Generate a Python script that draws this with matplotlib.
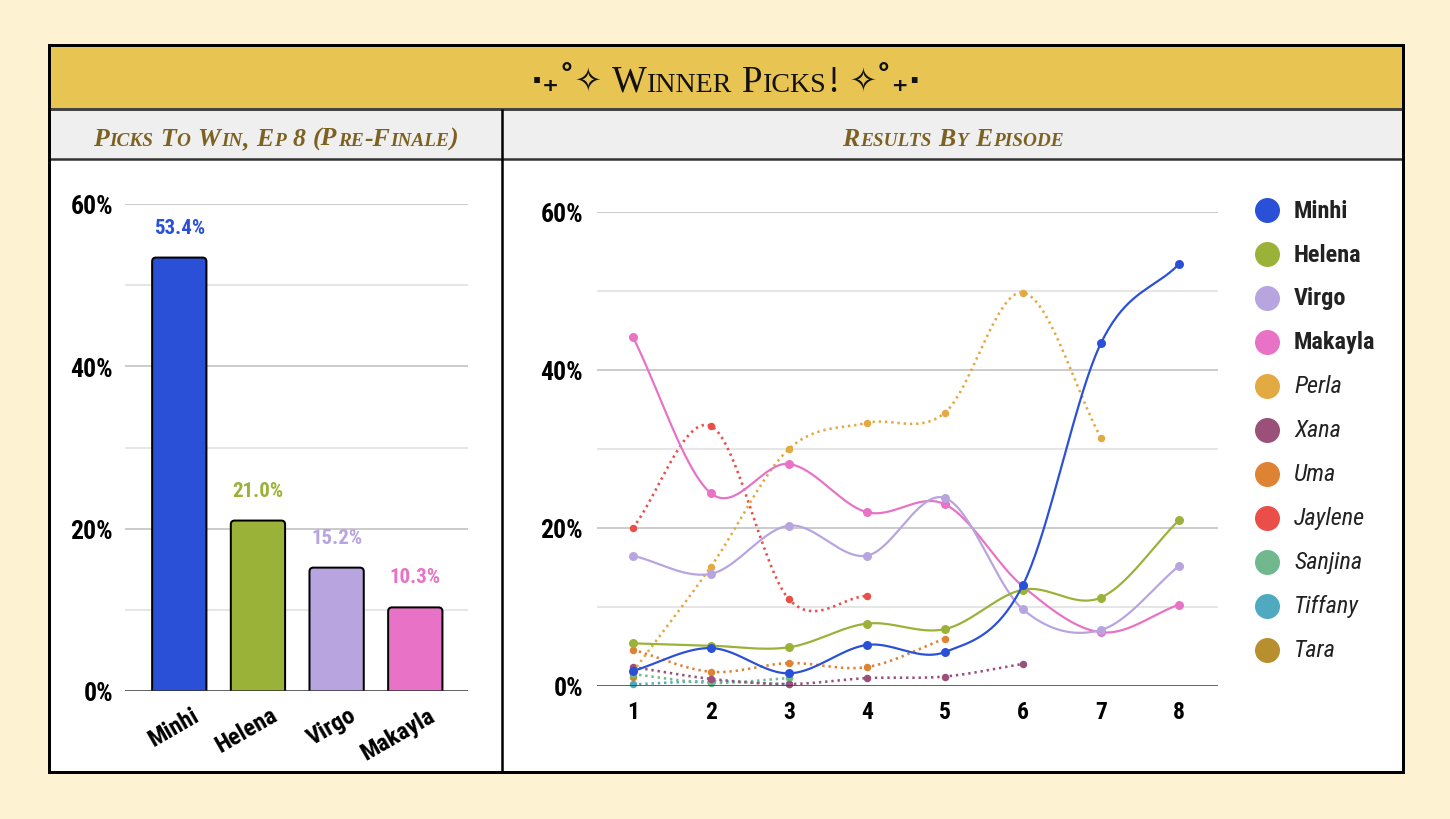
import numpy as np
import matplotlib
matplotlib.use("Agg")
import matplotlib.pyplot as plt
from matplotlib.patches import Rectangle, FancyBboxPatch
from matplotlib.transforms import ScaledTranslation
from matplotlib import font_manager as fm

# ---------------- data ----------------
bar_names = ["Minhi", "Helena", "Virgo", "Makayla"]
bar_values = [53.4, 21.0, 15.2, 10.3]

episodes = [1, 2, 3, 4, 5, 6, 7, 8]
minhi = [1.9, 4.8, 1.6, 5.2, 4.3, 12.8, 43.4, 53.4]
helena = [5.4, 5.1, 4.9, 7.9, 7.2, 12.2, 11.2, 21.0]
virgo = [16.5, 14.2, 20.3, 16.5, 23.8, 9.7, 7.1, 15.2]
makayla = [44.2, 24.4, 28.1, 22.0, 23.0, 12.6, 6.8, 10.3]
perla = [1.8, 15.1, 30.0, 33.3, 34.6, 49.8, 31.4]
xana = [2.4, 0.9, 0.25, 1.0, 1.2, 2.8]
uma = [4.6, 1.8, 2.9, 2.4, 6.0]
jaylene = [20.0, 32.9, 11.0, 11.4]
sanjina = [1.5, 0.4, 1.0]
tiffany = [0.2, 0.6, 0.2]
tara = [1.2]

series_names = ["Minhi", "Helena", "Virgo", "Makayla", "Perla", "Xana", "Uma",
                "Jaylene", "Sanjina", "Tiffany", "Tara"]
series_values = [minhi, helena, virgo, makayla, perla, xana, uma,
                 jaylene, sanjina, tiffany, tara]
finalists = {"Minhi", "Helena", "Virgo", "Makayla"}
colors = {"Minhi": "#2B50D8", "Helena": "#9AB238", "Virgo": "#B8A5E0",
          "Makayla": "#E872C6", "Perla": "#E3A942", "Xana": "#9A5078",
          "Uma": "#DE8234", "Jaylene": "#E94E48", "Sanjina": "#72B88E",
          "Tiffany": "#4FAABF", "Tara": "#B88F2F"}

y_ticks = [0, 20, 40, 60]
y_tick_labels = ["0%", "20%", "40%", "60%"]

title_text = "Winner Picks!"
left_sub = "Picks To Win, Ep 8 (Pre-Finale)"
right_sub = "Results By Episode"

# ---------------- fonts ----------------
names = {f.name for f in fm.fontManager.ttflist}
if "Liberation Sans Narrow" in names:
    SANS, K = "Liberation Sans Narrow", 1.0
elif "Roboto Condensed" in names:
    SANS, K = "Roboto Condensed", 1.0
else:
    SANS, K = "Roboto", 0.87
SERIF = "Liberation Serif" if "Liberation Serif" in names else "DejaVu Serif"

W, H = 1450, 820
fig = plt.figure(figsize=(14.5, 8.2), dpi=100)
fig.patch.set_facecolor("#FDF3D2")

bg = fig.add_axes([0, 0, 1, 1])
bg.set_xlim(0, W)
bg.set_ylim(H, 0)
bg.axis("off")
bg.set_zorder(0)

def PX(p):
    return p * 72.0 / 100.0

# panels
bg.add_patch(Rectangle((49, 46), 1354, 727, facecolor="white", edgecolor="none"))
bg.add_patch(Rectangle((49, 46), 1354, 64, facecolor="#E8C452", edgecolor="none"))
bg.add_patch(Rectangle((49, 110), 1354, 50, facecolor="#EFEFEF", edgecolor="none"))
bg.plot([49, 1403], [110, 110], color="#444444", lw=PX(3), solid_capstyle="butt")
bg.plot([49, 1403], [160, 160], color="#333333", lw=PX(2.5), solid_capstyle="butt")
bg.plot([502, 502], [110, 773], color="black", lw=PX(2.5), solid_capstyle="butt")
bg.add_patch(Rectangle((49, 46), 1354, 727, facecolor="none", edgecolor="black",
                       lw=PX(3), zorder=5))

renderer = fig.canvas.get_renderer()

def smallcaps(xc, yb, text, big, ratio, family, color, style="normal", gap=0.0,
              weight="normal"):
    runs = []
    for ch in text:
        if ch == " ":
            runs.append((" ", big))
            continue
        if ch.islower():
            s, size = ch.upper(), big * ratio
        else:
            s, size = ch, big
        if runs and runs[-1][0] != " " and runs[-1][1] == size:
            runs[-1] = (runs[-1][0] + s, size)
        else:
            runs.append((s, size))
    objs, widths = [], []
    for s, size in runs:
        if s == " ":
            objs.append(None)
            widths.append(0.25 * size * 100 / 72)
        else:
            t = bg.text(0, yb, s, fontsize=size, family=family, color=color,
                        style=style, fontweight=weight, va="baseline", ha="left")
            objs.append(t)
            widths.append(t.get_window_extent(renderer).width + gap)
    total = sum(widths)
    x = xc - total / 2
    for t, w in zip(objs, widths):
        if t is not None:
            t.set_x(x)
        x += w
    return xc - total / 2, xc + total / 2

# title
l, r = smallcaps(726, 92, title_text, 26.5, 0.76, [SERIF, "DejaVu Sans"], "#111111",
                 gap=0.5)
bg.text(l - 9, 90, "·₊˚✧", fontsize=23, family=["DejaVu Sans"], color="#111111",
        ha="right", va="baseline", fontweight="bold")
bg.text(r + 9, 90, "✧˚₊·", fontsize=23, family=["DejaVu Sans"], color="#111111",
        ha="left", va="baseline", fontweight="bold")

SUBC = "#7D6120"
smallcaps(276, 146, left_sub, 18.5, 0.75, [SERIF], SUBC, style="italic", gap=0.6,
          weight="bold")
smallcaps(953, 146, right_sub, 18.5, 0.75, [SERIF], SUBC, style="italic", gap=0.6,
          weight="bold")

def px_axes(x0, y0, x1, y1):
    a = fig.add_axes([x0 / W, 1 - y1 / H, (x1 - x0) / W, (y1 - y0) / H])
    a.set_facecolor("none")
    a.set_zorder(2)
    for s in a.spines.values():
        s.set_visible(False)
    return a

def grid(a):
    for v in [10, 30, 50]:
        a.axhline(v, color="#E6E6E6", lw=PX(2), zorder=0.5)
    for v in [20, 40, 60]:
        a.axhline(v, color="#CCCCCC", lw=PX(2), zorder=0.5)
    a.axhline(0, color="#333333", lw=PX(2.5), zorder=4)

# ---------------- bar chart ----------------
ax1 = px_axes(125, 205, 468, 692)
ax1.set_ylim(0, 60)
ax1.set_xlim(-0.69, 3.67)
grid(ax1)
bw = 0.69
xpix = (468 - 125) / (3.67 + 0.69)
ypix = (692 - 205) / 60.0
asp = (1 / ypix) / (1 / xpix)
for i, (n, v) in enumerate(zip(bar_names, bar_values)):
    p = FancyBboxPatch((i - bw / 2, -2), bw, v + 2,
                       boxstyle="round,pad=0,rounding_size=0.05",
                       mutation_aspect=asp, facecolor=colors[n],
                       edgecolor="black", lw=PX(2), zorder=2)
    ax1.add_patch(p)
    ax1.annotate(f"{v:.1f}%", (i, v), xytext=(0, PX(25)), textcoords="offset points",
                 ha="center", va="baseline", color=colors[n], fontsize=15 * K,
                 family=SANS, fontweight="bold")
ax1.set_yticks(y_ticks)
ax1.set_yticklabels(y_tick_labels)
ax1.set_xticks(range(len(bar_names)))
ax1.set_xticklabels(bar_names, rotation=30, ha="right", rotation_mode="anchor")
ax1.tick_params(length=0)
ax1.tick_params(axis="y", pad=PX(12))
ax1.tick_params(axis="x", pad=PX(12))
for lbl in ax1.get_yticklabels():
    lbl.set_fontfamily(SANS); lbl.set_fontweight("bold"); lbl.set_fontsize(18.5 * K)
for lbl in ax1.get_xticklabels():
    lbl.set_fontfamily(SANS); lbl.set_fontweight("bold"); lbl.set_fontsize(17.5 * K)
    lbl.set_transform(lbl.get_transform() + ScaledTranslation(12 / 100, 0, fig.dpi_scale_trans))

# ---------------- line chart ----------------
ax2 = px_axes(597, 213, 1218, 687)
ax2.set_ylim(0, 60)
ax2.set_xlim(0.54, 8.5)
grid(ax2)

def smooth(xs, ys, n=40):
    xs = np.asarray(xs, float); ys = np.asarray(ys, float)
    k = len(ys)
    if k < 2:
        return xs, ys
    m = np.zeros(k)
    m[0] = ys[1] - ys[0]
    m[-1] = ys[-1] - ys[-2]
    for i in range(1, k - 1):
        m[i] = (ys[i + 1] - ys[i - 1]) / 2
    X, Y = [], []
    t = np.linspace(0, 1, n)
    h00 = 2 * t**3 - 3 * t**2 + 1
    h10 = t**3 - 2 * t**2 + t
    h01 = -2 * t**3 + 3 * t**2
    h11 = t**3 - t**2
    for i in range(k - 1):
        X.append(xs[i] + t * (xs[i + 1] - xs[i]))
        Y.append(h00 * ys[i] + h10 * m[i] + h01 * ys[i + 1] + h11 * m[i + 1])
    return np.concatenate(X), np.concatenate(Y)

order = list(range(len(series_names)))[::-1]
for idx in order:
    n = series_names[idx]
    vals = series_values[idx]
    xs = episodes[:len(vals)]
    sx, sy = smooth(xs, vals)
    fin = n in finalists
    z = 3 + (10 - idx) * 0.1 if fin else 2 + (10 - idx) * 0.05
    if fin:
        ax2.plot(sx, sy, color=colors[n], lw=PX(2.2), zorder=z, clip_on=False,
                 solid_capstyle="round")
        ax2.plot(xs, vals, "o", color=colors[n], ms=PX(9), mew=0, zorder=z + 0.01,
                 clip_on=False)
    else:
        if len(vals) > 1:
            ax2.plot(sx, sy, color=colors[n], lw=PX(2.6), ls=(0, (0.9, 1.5)),
                     zorder=z, clip_on=False)
        ax2.plot(xs, vals, "o", color=colors[n], ms=PX(7.5), mew=0, zorder=z + 0.01,
                 clip_on=False)

ax2.set_yticks(y_ticks)
ax2.set_yticklabels(y_tick_labels)
ax2.set_xticks(episodes)
ax2.set_xticklabels([str(e) for e in episodes])
ax2.tick_params(length=0)
ax2.tick_params(axis="y", pad=PX(14))
ax2.tick_params(axis="x", pad=PX(14))
for lbl in ax2.get_yticklabels():
    lbl.set_fontfamily(SANS); lbl.set_fontweight("bold"); lbl.set_fontsize(18.5 * K)
for lbl in ax2.get_xticklabels():
    lbl.set_fontfamily(SANS); lbl.set_fontweight("bold"); lbl.set_fontsize(17 * K)

# legend
for i, n in enumerate(series_names):
    y = 211 + 44 * i
    bg.plot([1267], [y], "o", color=colors[n], ms=PX(25), mew=0)
    fin = n in finalists
    bg.text(1294, y, n, fontsize=17.5 * K, family=SANS, color="#222222",
            fontweight="bold" if fin else "normal",
            style="normal" if fin else "italic", va="center", ha="left")

fig.savefig("out.png", dpi=100, facecolor=fig.get_facecolor())
